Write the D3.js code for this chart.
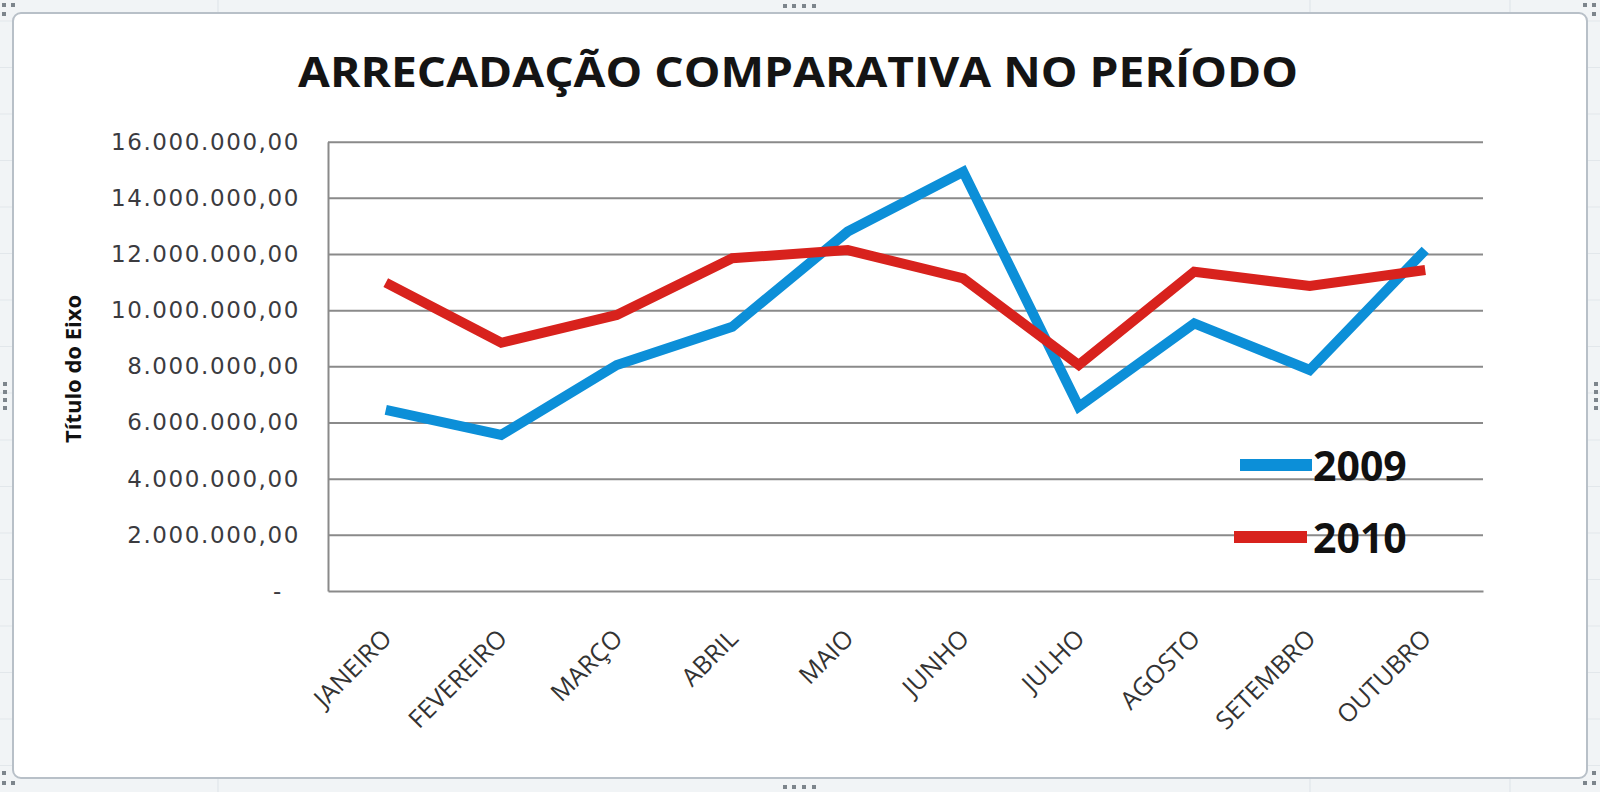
<!DOCTYPE html>
<html>
<head>
<meta charset="utf-8">
<script src="https://cdn.jsdelivr.net/npm/d3@7"></script>
<style>
    body { margin: 0; background: #f2f4f6; }
    svg { display: block; }
</style>
</head>
<body>
<div id="chart"></div>
<script>
// data
const months = ["JANEIRO", "FEVEREIRO", "MARÇO", "ABRIL", "MAIO", "JUNHO", "JULHO", "AGOSTO", "SETEMBRO", "OUTUBRO"];
const values2009 = [6450000, 5560000, 8050000, 9410000, 12800000, 14930000, 6560000, 9530000, 7870000, 12140000];
const values2010 = [10980000, 8840000, 9830000, 11850000, 12140000, 11130000, 8050000, 11370000, 10860000, 11430000];
const yTicks = [0, 2000000, 4000000, 6000000, 8000000, 10000000, 12000000, 14000000, 16000000];
const seriesNames = ["2009", "2010"];
const seriesColors = ["#0c8fd8", "#d8221d"];

const width = 1600, height = 792;
const plot = { left: 328, right: 1483, top: 141.7, bottom: 591 };

const svg = d3.select("#chart")
    .append("svg")
    .attr("width", width)
    .attr("height", height);

// spreadsheet behind the chart
svg.append("rect")
    .attr("width", width)
    .attr("height", height)
    .attr("fill", "#f1f4f6");

[218, 1310, 1510].forEach(cx => {
    svg.append("line")
        .attr("x1", cx).attr("x2", cx)
        .attr("y1", 0).attr("y2", height)
        .attr("stroke", "#dde3e8");
});
d3.range(440, 790, 46.5).concat(d3.range(393, 0, -46.5)).forEach(cy => {
    svg.append("line")
        .attr("x1", 0).attr("x2", width)
        .attr("y1", cy).attr("y2", cy)
        .attr("stroke", "#e2e7eb");
});

// chart area
svg.append("rect")
    .attr("x", 13)
    .attr("y", 13)
    .attr("width", 1574)
    .attr("height", 765)
    .attr("rx", 8)
    .attr("fill", "#ffffff")
    .attr("stroke", "#b8c0c8")
    .attr("stroke-width", 2);

// resize handles
const handles = [
    [783, 4], [792, 4], [802, 4], [812, 4],
    [783, 785], [792, 785], [802, 785], [812, 785],
    [3, 382], [3, 390], [3, 398], [3, 406],
    [1594, 382], [1594, 390], [1594, 398], [1594, 406],
    [2, 3], [11, 3], [2, 12],
    [1583, 3], [1592, 3], [1592, 12],
    [2, 771], [2, 781], [11, 781],
    [1592, 771], [1592, 781], [1583, 781]
];
svg.selectAll(".handle")
    .data(handles)
    .enter()
    .append("rect")
    .attr("class", "handle")
    .attr("x", d => d[0])
    .attr("y", d => d[1])
    .attr("width", 4)
    .attr("height", 4)
    .attr("fill", "#7d858c");

const xScale = d3.scalePoint()
    .domain(months)
    .range([plot.left, plot.right])
    .padding(0.5);

const yScale = d3.scaleLinear()
    .domain([0, 16000000])
    .range([plot.bottom, plot.top]);

const ptBR = d3.formatLocale({ decimal: ",", thousands: ".", grouping: [3], currency: ["R$", ""] });
const fmt = ptBR.format(",.2f");

// gridlines
svg.append("g")
    .attr("transform", `translate(${plot.left}, 0)`)
    .call(d3.axisLeft(yScale)
        .tickValues(yTicks.filter(v => v > 0))
        .tickSize(-(plot.right - plot.left))
        .tickFormat(""))
    .call(g => g.select(".domain").remove())
    .selectAll("line")
    .attr("stroke", "#8a8a8a")
    .attr("stroke-width", 2);

// y axis
const yAxis = svg.append("g")
    .attr("transform", `translate(${plot.left}, 0)`)
    .call(d3.axisLeft(yScale)
        .tickValues(yTicks)
        .tickSize(0)
        .tickSizeOuter(0)
        .tickPadding(28)
        .tickFormat(d => d === 0 ? "-" : fmt(d)));

yAxis.select(".domain")
    .attr("stroke", "#8a8a8a")
    .attr("stroke-width", 2);

yAxis.selectAll("text")
    .attr("font-family", "DejaVu Sans")
    .attr("font-size", 23)
    .attr("letter-spacing", 1.6)
    .attr("fill", "#3b3b3f")
    .attr("dx", d => d === 0 ? -17 : 0);

// x axis
const xAxis = svg.append("g")
    .attr("transform", `translate(0, ${plot.bottom})`)
    .call(d3.axisBottom(xScale).tickSize(0).tickSizeOuter(0));

xAxis.select(".domain")
    .attr("stroke", "#8a8a8a")
    .attr("stroke-width", 2);

xAxis.selectAll(".tick text")
    .attr("font-family", "Open Sans")
    .attr("font-size", 25)
    .attr("fill", "#333333")
    .attr("text-anchor", "end")
    .attr("x", 7)
    .attr("y", 49)
    .attr("dy", 0)
    .attr("transform", "rotate(-45, 7, 49)");

// lines
const line = d3.line()
    .x((d, i) => xScale(months[i]))
    .y(d => yScale(d));

[values2009, values2010].forEach((values, i) => {
    svg.append("path")
        .datum(values)
        .attr("d", line)
        .attr("fill", "none")
        .attr("stroke", seriesColors[i])
        .attr("stroke-width", 10)
        .attr("stroke-linejoin", "miter")
        .attr("stroke-miterlimit", 4);
});

// legend
const legend = svg.append("g");
seriesNames.forEach((name, i) => {
    const ly = 465 + i * 72;
    legend.append("line")
        .attr("x1", 1240 - i * 6)
        .attr("x2", 1312 - i * 5)
        .attr("y1", ly)
        .attr("y2", ly)
        .attr("stroke", seriesColors[i])
        .attr("stroke-width", 12);
    legend.append("text")
        .attr("x", 1313)
        .attr("y", ly + 16)
        .attr("font-family", "Open Sans")
        .attr("font-weight", 700)
        .attr("font-size", 41)
        .attr("fill", "#111111")
        .text(name);
});

// titles
svg.append("text")
    .attr("x", 798)
    .attr("y", 87)
    .attr("text-anchor", "middle")
    .attr("font-family", "Open Sans")
    .attr("font-weight", 700)
    .attr("font-size", 42)
    .attr("textLength", 1000)
    .attr("lengthAdjust", "spacingAndGlyphs")
    .attr("fill", "#141414")
    .text("ARRECADAÇÃO COMPARATIVA NO PERÍODO");

svg.append("text")
    .attr("transform", "translate(81, 369) rotate(-90)")
    .attr("text-anchor", "middle")
    .attr("font-family", "Open Sans")
    .attr("font-weight", 700)
    .attr("font-size", 22)
    .attr("fill", "#111111")
    .text("Título do Eixo");
</script>
</body>
</html>
